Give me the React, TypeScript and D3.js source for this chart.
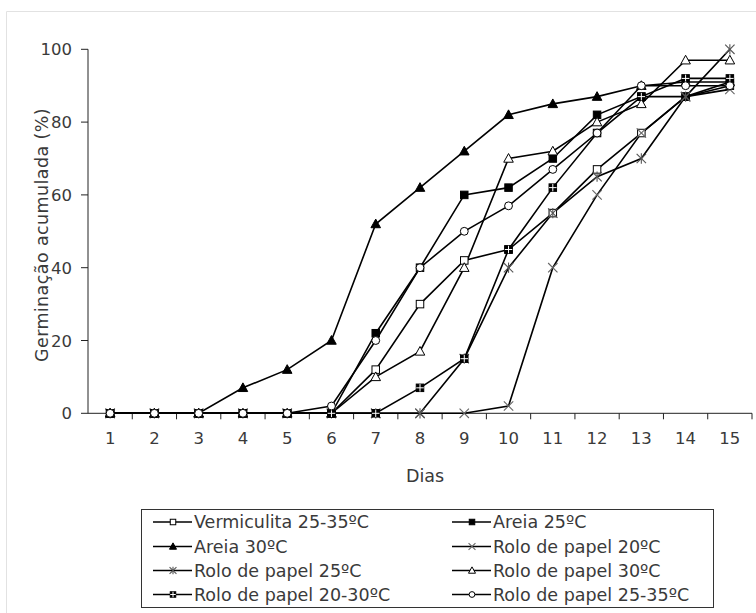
import React from "react";
import * as d3 from "d3";

const days = [1, 2, 3, 4, 5, 6, 7, 8, 9, 10, 11, 12, 13, 14, 15];
const yTicks = [0, 20, 40, 60, 80, 100];

const vermiculita2535 = [0, 0, 0, 0, 0, 0, 12, 30, 42, 45, 55, 67, 77, 87, 90];
const areia25 = [0, 0, 0, 0, 0, 0, 22, 40, 60, 62, 70, 82, 87, 87, 91];
const areia30 = [0, 0, 0, 7, 12, 20, 52, 62, 72, 82, 85, 87, 90, 91, 91];
const rolo20 = [0, 0, 0, 0, 0, 0, 0, 0, 0, 2, 40, 60, 77, 87, 89];
const rolo25 = [0, 0, 0, 0, 0, 0, 0, 0, 15, 40, 55, 65, 70, 87, 100];
const rolo30 = [0, 0, 0, 0, 0, 0, 10, 17, 40, 70, 72, 80, 85, 97, 97];
const rolo2030 = [0, 0, 0, 0, 0, 0, 0, 7, 15, 45, 62, 77, 87, 92, 92];
const rolo2535 = [0, 0, 0, 0, 0, 2, 20, 40, 50, 57, 67, 77, 90, 90, 90];

const seriesNames = [
  "Vermiculita 25-35ºC",
  "Areia 25ºC",
  "Areia 30ºC",
  "Rolo de papel 20ºC",
  "Rolo de papel 25ºC",
  "Rolo de papel 30ºC",
  "Rolo de papel 20-30ºC",
  "Rolo de papel 25-35ºC",
];
const seriesValues = [vermiculita2535, areia25, areia30, rolo20, rolo25, rolo30, rolo2030, rolo2535];
const seriesMarkers = ["openSquare", "filledSquare", "filledTriangle", "x", "asterisk", "openTriangle", "crossSquare", "openCircle"];

const FONT = "'DejaVu Sans', sans-serif";
const TXT = "#3a3a3a";

function Marker({ kind, x, y, s }: { kind: string; x: number; y: number; s: number }) {
  const h = s / 2;
  switch (kind) {
    case "openSquare":
      return <rect x={x - h} y={y - h} width={s} height={s} fill="#fff" stroke="#000" strokeWidth={1} />;
    case "filledSquare":
      return <rect x={x - h} y={y - h} width={s} height={s} fill="#000" stroke="#000" strokeWidth={1} />;
    case "crossSquare":
      return (
        <g>
          <rect x={x - h} y={y - h} width={s} height={s} fill="#000" stroke="#000" strokeWidth={1} />
          <line x1={x} x2={x} y1={y - h} y2={y + h} stroke="#fff" strokeWidth={1} />
          <line x1={x - h} x2={x + h} y1={y} y2={y} stroke="#fff" strokeWidth={1} />
        </g>
      );
    case "filledTriangle": {
      const t = s * 1.1;
      return <path d={`M${x},${y - t * 0.6}L${x + t * 0.58},${y + t * 0.45}L${x - t * 0.58},${y + t * 0.45}Z`} fill="#000" stroke="#000" strokeWidth={1} />;
    }
    case "openTriangle": {
      const t = s * 1.1;
      return <path d={`M${x},${y - t * 0.6}L${x + t * 0.58},${y + t * 0.45}L${x - t * 0.58},${y + t * 0.45}Z`} fill="#fff" stroke="#000" strokeWidth={1} />;
    }
    case "openCircle":
      return <circle cx={x} cy={y} r={h * 1.05} fill="#fff" stroke="#000" strokeWidth={1} />;
    case "x": {
      const k = h * 1.25;
      return (
        <g stroke="#666" strokeWidth={1.1}>
          <line x1={x - k} x2={x + k} y1={y - k} y2={y + k} />
          <line x1={x - k} x2={x + k} y1={y + k} y2={y - k} />
        </g>
      );
    }
    case "asterisk": {
      const k = h * 1.25;
      return (
        <g stroke="#555" strokeWidth={1.1}>
          <line x1={x - k} x2={x + k} y1={y - k} y2={y + k} />
          <line x1={x - k} x2={x + k} y1={y + k} y2={y - k} />
          <line x1={x} x2={x} y1={y - k * 1.1} y2={y + k * 1.1} />
        </g>
      );
    }
  }
  return null;
}

export default function App() {
  const W = 756;
  const H = 613;
  const x = d3.scaleLinear().domain([0.5, 15.5]).range([88, 752]);
  const y = d3.scaleLinear().domain([0, 100]).range([413.3, 49.3]);
  const line = d3
    .line<number>()
    .x((_, i) => x(days[i]))
    .y((v) => y(v));
  const xTickMarks = d3.range(1.5, 15.6, 1);

  const legX = [153, 452];
  const legY = [522, 546.5, 570.5, 594.5];

  return (
    <div style={{ position: "absolute", left: 0, top: 0 }}>
      <svg width={W} height={H} style={{ display: "block", background: "#fff" }}>
        <line x1={6.5} x2={W} y1={11.5} y2={11.5} stroke="#e2e2e2" />
        <line x1={6.5} x2={6.5} y1={11.5} y2={H} stroke="#e2e2e2" />

        {/* axes */}
        <line x1={x(0.5)} x2={x(15.5)} y1={y(0)} y2={y(0)} stroke="#222" strokeWidth={1} />
        <line x1={x(0.5)} x2={x(0.5)} y1={y(0)} y2={y(100)} stroke="#222" strokeWidth={1} />
        {xTickMarks.map((t) => (
          <line key={t} x1={x(t)} x2={x(t)} y1={y(0)} y2={y(0) + 6} stroke="#222" />
        ))}
        {yTicks.map((t) => (
          <g key={t}>
            <line x1={x(0.5) - 7} x2={x(0.5)} y1={y(t)} y2={y(t)} stroke="#222" />
            <text x={72} y={y(t) + 6} textAnchor="end" fontFamily={FONT} fontSize={16.5} fill={TXT}>
              {t}
            </text>
          </g>
        ))}
        {days.map((d) => (
          <text key={d} x={x(d)} y={443.5} textAnchor="middle" fontFamily={FONT} fontSize={16.5} fill={TXT}>
            {d}
          </text>
        ))}
        <text x={425} y={482} textAnchor="middle" fontFamily={FONT} fontSize={17.5} fill={TXT}>
          Dias
        </text>
        <text
          transform={`translate(48,235) rotate(-90)`}
          textAnchor="middle"
          fontFamily={FONT}
          fontSize={17.5}
          letterSpacing={0.4}
          fill={TXT}
        >
          Germinação acumulada (%)
        </text>

        {/* series lines */}
        {seriesValues.map((vals, si) => (
          <path key={si} d={line(vals) || ""} fill="none" stroke="#000" strokeWidth={1.6} />
        ))}
        {/* markers */}
        {seriesValues.map((vals, si) => (
          <g key={si}>
            {vals.map((v, i) => (
              <Marker key={i} kind={seriesMarkers[si]} x={x(days[i])} y={y(v)} s={7.5} />
            ))}
          </g>
        ))}

        {/* legend */}
        <rect x={141.5} y={509.5} width={572} height={98} fill="#fff" stroke="#333" strokeWidth={1} />
        {seriesNames.map((name, i) => {
          const col = i % 2;
          const row = Math.floor(i / 2);
          const lx = legX[col];
          const ly = legY[row];
          return (
            <g key={name}>
              <line x1={lx} x2={lx + 39} y1={ly} y2={ly} stroke="#000" strokeWidth={1.6} />
              <Marker kind={seriesMarkers[i]} x={lx + 20} y={ly} s={5.5} />
              <text x={lx + 41} y={ly + 6.3} fontFamily={FONT} fontSize={17.5} fill={TXT}>
                {name}
              </text>
            </g>
          );
        })}
      </svg>
    </div>
  );
}
